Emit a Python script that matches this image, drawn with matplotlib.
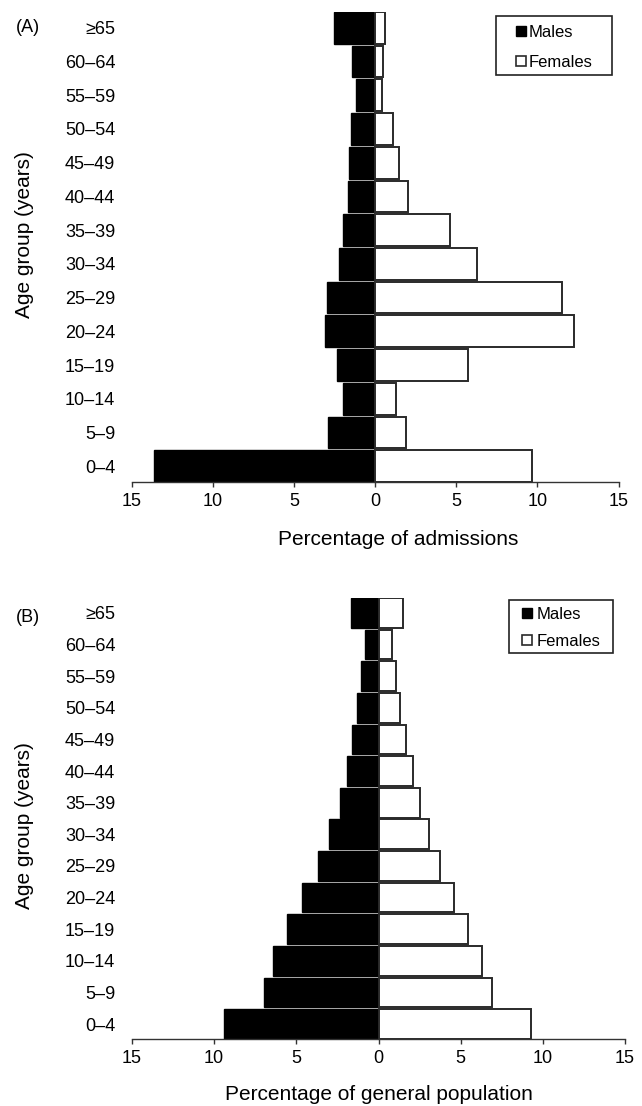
"""Age pyramids: admissions (A) vs general population (B), by sex."""

import matplotlib
matplotlib.use("Agg")
import matplotlib.pyplot as plt
from matplotlib.lines import Line2D
from matplotlib.patches import Rectangle
import numpy as np

plt.rcParams["font.family"] = ["Liberation Sans", "DejaVu Sans"]

age_groups = ["0–4", "5–9", "10–14", "15–19", "20–24", "25–29", "30–34",
              "35–39", "40–44", "45–49", "50–54", "55–59", "60–64", "≥65"]

# percentages
adm_males = [13.65, 2.92, 1.99, 2.36, 3.08, 2.98, 2.26, 2.01, 1.68, 1.64, 1.50, 1.17, 1.46, 2.57]
adm_females = [9.65, 1.91, 1.25, 5.69, 12.24, 11.54, 6.30, 4.62, 2.01, 1.44, 1.11, 0.43, 0.49, 0.60]
pop_males = [9.43, 6.99, 6.42, 5.57, 4.65, 3.70, 2.99, 2.32, 1.91, 1.61, 1.32, 1.06, 0.85, 1.65]
pop_females = [9.31, 6.91, 6.30, 5.45, 4.61, 3.74, 3.09, 2.50, 2.07, 1.67, 1.32, 1.04, 0.81, 1.50]

xticks = [-15, -10, -5, 0, 5, 10, 15]
xticklabels = ["15", "10", "5", "0", "5", "10", "15"]

W, H = 642, 1106
fig = plt.figure(figsize=(W / 100, H / 100), dpi=100)

BAR_H = 0.94
EDGE = "#2a2a2a"


def px_axes(left, right, top, bottom):
    # pixel box -> figure fraction
    return [left / W, 1 - bottom / H, (right - left) / W, (bottom - top) / H]


def pyramid(rect, males, females, xlabel, xlab_x, xlab_pad, tag, tag_y, ylab_y, leg):
    ax = fig.add_axes(rect)
    y = np.arange(len(age_groups))
    ax.barh(y, -np.array(males), height=BAR_H, color="black", edgecolor="black", linewidth=1.0)
    ax.barh(y, females, height=BAR_H, color="white", edgecolor=EDGE, linewidth=1.4)
    ax.set_xlim(-15, 15)
    ax.set_ylim(-BAR_H / 2, len(age_groups) - 1 + BAR_H / 2)
    ax.set_xticks(xticks)
    ax.set_xticklabels(xticklabels)
    ax.set_yticks(y)
    ax.set_yticklabels(age_groups)
    for s in ["top", "right", "left"]:
        ax.spines[s].set_visible(False)
    ax.spines["bottom"].set_color("#333333")
    ax.spines["bottom"].set_linewidth(1.0)
    ax.tick_params(axis="x", length=3.5, width=1.0, color="#333333", pad=4.5, labelsize=13)
    ax.tick_params(axis="y", length=0, pad=12, labelsize=13)
    ax.set_xlabel(xlabel, fontsize=15, labelpad=xlab_pad)
    ax.xaxis.label.set_x(xlab_x)

    fig.text(28 / W, 1 - tag_y / H, tag, fontsize=13, ha="center", va="center")
    fig.text(25 / W, 1 - ylab_y / H, "Age group (years)", fontsize=15,
             rotation=90, ha="center", va="center")

    # legend: frame drawn separately so the side padding can be wider than the top
    (bx0, by0, bx1, by1), shift, pad, hl, tp, ls = leg
    fig.patches.append(Rectangle((bx0 / W, 1 - by1 / H), (bx1 - bx0) / W, (by1 - by0) / H,
                                 transform=fig.transFigure, facecolor="white",
                                 edgecolor="#222222", linewidth=1.2, zorder=5))
    handles = [
        Line2D([], [], linestyle="none", marker="s", markersize=7.5,
               markerfacecolor="black", markeredgecolor="black", label="Males"),
        Line2D([], [], linestyle="none", marker="s", markersize=7.5,
               markerfacecolor="white", markeredgecolor=EDGE, markeredgewidth=1.2, label="Females"),
    ]
    lg = fig.legend(handles=handles, loc="upper left",
                    bbox_to_anchor=(bx0 / W, 1 - (by0 + shift) / H),
                    bbox_transform=fig.transFigure, fontsize=12, frameon=False,
                    handlelength=hl, handletextpad=tp,
                    borderpad=pad, labelspacing=ls, borderaxespad=0)
    lg.set_zorder(6)
    return ax


pyramid(px_axes(132, 618.5, 12, 482), adm_males, adm_females,
        "Percentage of admissions", 0.547, 14, "(A)", 28, 235,
        ((496, 15.7, 611.7, 75), 2, 0.44, 2.08, -0.54, 0.87))
pyramid(px_axes(132, 625, 598, 1039), pop_males, pop_females,
        "Percentage of general population", 0.5, 13, "(B)", 617, 826,
        ((509, 600, 613, 653), 2, 0.31, 1.59, -0.22, 0.69))

fig.savefig("out.png", dpi=100)
plt.close(fig)
